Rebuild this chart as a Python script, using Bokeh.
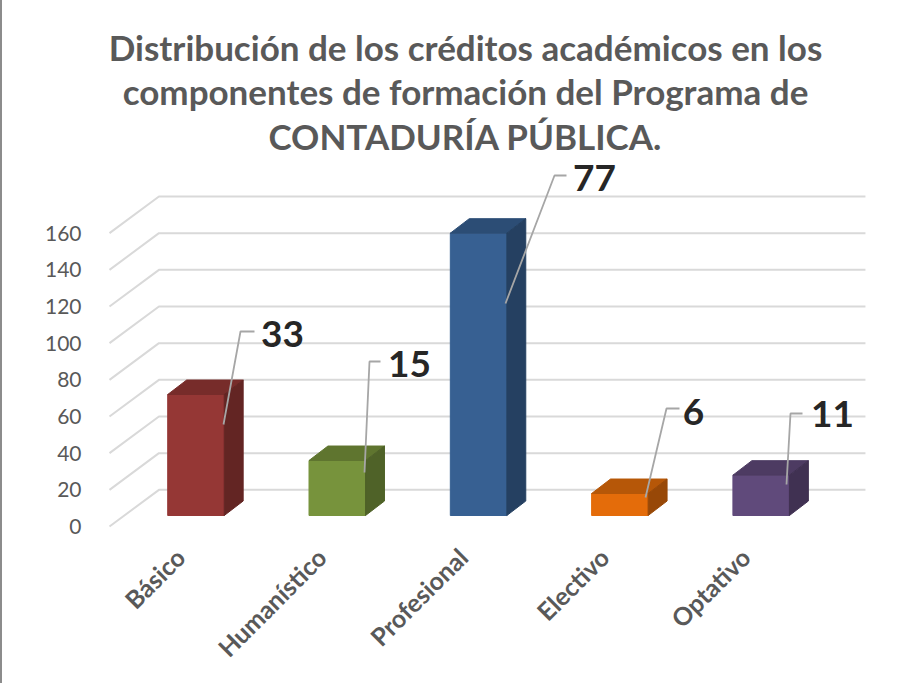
from bokeh.plotting import figure
from bokeh.embed import file_html
from bokeh.resources import INLINE
from bokeh.models import FixedTicker, ColumnDataSource, Range1d
from bokeh.core.properties import value

TITLE_LINES = ["Distribución de los créditos académicos en los",
               "componentes de formación del Programa de",
               "CONTADURÍA PÚBLICA."]
CATEGORIES = ["Básico", "Humanístico", "Profesional", "Electivo", "Optativo"]
BAR_HEIGHTS = [66, 30, 154, 12, 22]
CREDIT_LABELS = [33, 15, 77, 6, 11]
Y_TICKS = [0, 20, 40, 60, 80, 100, 120, 140, 160]
FRONT = ["#953735", "#77933C", "#376092", "#E46C0A", "#604A7B"]
TOP = ["#772C2A", "#5F752F", "#2C4D75", "#B65708", "#4D3B62"]
SIDE = ["#632523", "#4F6228", "#254061", "#984807", "#403152"]

# page geometry (pixels in the window)
FIG_L, FIG_T, FIG_W, FIG_H = 10, 8, 915, 685
FRAME_L, FRAME_R, FRAME_T, FRAME_B = 104, 920, 8, 548
BAND_PX, X0_PX = 141.3, 117.0
UNIT_PX, Y0_PX = 1.8333, 534.0

def dx(px): return (px - X0_PX) / BAND_PX
def dy(py): return (Y0_PX - py) / UNIT_PX

p = figure(width=FIG_W, height=FIG_H, output_backend="svg", toolbar_location=None,
           x_range=Range1d(dx(FRAME_L), dx(FRAME_R)), y_range=Range1d(dy(FRAME_B), dy(FRAME_T)),
           min_border_left=FRAME_L - FIG_L, min_border_right=FIG_L + FIG_W - FRAME_R,
           min_border_top=FRAME_T - FIG_T, min_border_bottom=FIG_T + FIG_H - FRAME_B)
p.outline_line_color = None
p.xgrid.visible = False
p.ygrid.visible = False
p.margin = (-2, 0, 0, 0)
p.styles = {"border-left": "2px solid #8c8c8c", "border-top": "2px solid #8c8c8c", "box-sizing": "border-box"}

# axes
FONT = "Lato"
ya = p.yaxis[0]
ya.ticker = FixedTicker(ticks=Y_TICKS)
ya.axis_line_color = None
ya.major_tick_line_color = None
ya.minor_tick_line_color = None
ya.major_label_standoff = 9
ya.major_label_text_font = FONT
ya.major_label_text_font_size = "21px"
ya.major_label_text_color = "#595959"
xa = p.xaxis[0]
xa.ticker = FixedTicker(ticks=[i + 0.5 for i in range(5)])
xa.major_label_overrides = {i + 0.5: c for i, c in enumerate(CATEGORIES)}
xa.axis_line_color = None
xa.major_tick_line_color = None
xa.minor_tick_line_color = None
xa.major_label_orientation = 0.785
xa.major_label_standoff = 6
xa.major_label_text_font = FONT
xa.major_label_text_font_style = "bold"
xa.major_label_text_font_size = "25px"
xa.major_label_text_color = "#595959"

# 3-D grid: a slanted floor segment then the line on the back wall
DEPTH_X, DEPTH_V = 0.35, 20
for v in Y_TICKS:
    p.line([0, DEPTH_X, 5 + DEPTH_X], [v, v + DEPTH_V, v + DEPTH_V], line_color="#d9d9d9", line_width=2)

# bars
BAR_OFF_X, BAR_OFF_V = 0.112, 6
BAR_W, BAR_DX, BAR_DV = 0.4, 0.134, 7.9
for i, h in enumerate(BAR_HEIGHTS):
    x0 = i + 0.5 + BAR_OFF_X - BAR_W / 2
    x1 = x0 + BAR_W
    b = BAR_OFF_V
    t = b + h
    p.patch([x0, x1, x1, x0], [b, b, t, t], fill_color=FRONT[i], line_color=FRONT[i], line_width=1)
    p.patch([x0, x1, x1 + BAR_DX, x0 + BAR_DX], [t, t, t + BAR_DV, t + BAR_DV],
            fill_color=TOP[i], line_color=TOP[i], line_width=1)
    p.patch([x1, x1 + BAR_DX, x1 + BAR_DX, x1], [b, b + BAR_DV, t + BAR_DV, t],
            fill_color=SIDE[i], line_color=SIDE[i], line_width=1)

# leader lines (pixel read-offs of the callouts)
LEADERS = [[(231, 432), (248, 339), (262, 339)],
           [(372, 480), (377, 369), (388, 369)],
           [(513, 311), (562, 183), (574, 183)],
           [(653, 505), (674, 416), (687, 416)],
           [(794, 492), (798, 421), (810, 421)]]
LABEL_POS = [(290, 341), (417, 371), (602, 185), (701, 419), (840, 421)]
for pts in LEADERS:
    p.line([dx(a) for a, _ in pts], [dy(b) for _, b in pts], line_color="#a6a6a6", line_width=1.8)
src = ColumnDataSource(dict(x=[dx(a) for a, _ in LABEL_POS], y=[dy(b) for _, b in LABEL_POS],
                            t=[str(c) for c in CREDIT_LABELS]))
p.text("x", "y", "t", source=src, text_font=value(FONT), text_font_style="bold", text_font_size="37px",
       text_color="#262626", text_align="center", text_baseline="middle")

# title
TITLE_Y = [54, 98, 143]
src2 = ColumnDataSource(dict(x=[dx(473)] * 3, y=[dy(b) for b in TITLE_Y], t=TITLE_LINES))
p.text("x", "y", "t", source=src2, text_font=value(FONT), text_font_style="bold", text_font_size="35px",
       text_color="#595959", text_align="center", text_baseline="middle")

open("out.html", "w").write(file_html(p, INLINE))
